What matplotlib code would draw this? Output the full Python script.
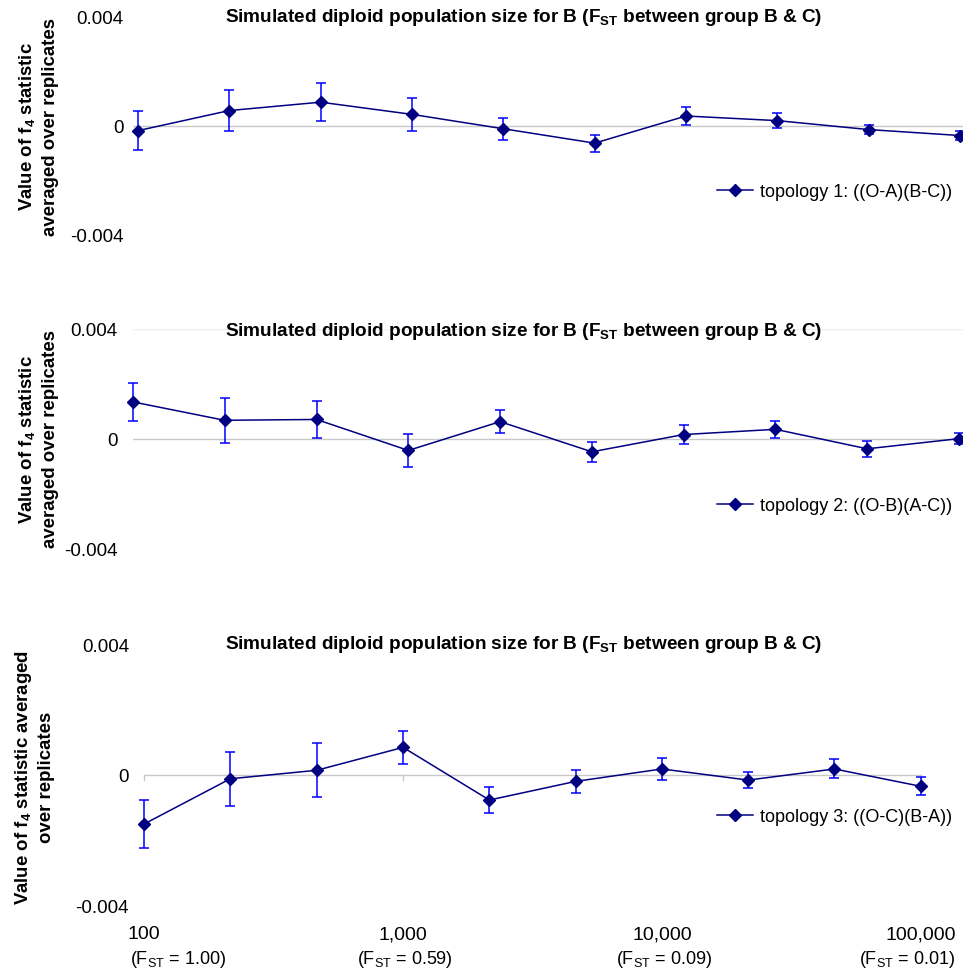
import matplotlib
matplotlib.use('Agg')
import matplotlib.pyplot as plt

plt.rcParams['font.family'] = ['Liberation Sans', 'DejaVu Sans']
plt.rcParams['mathtext.fontset'] = 'custom'
plt.rcParams['mathtext.rm'] = 'Liberation Sans'
plt.rcParams['mathtext.bf'] = 'Liberation Sans:bold'

#simulated population sizes (x values, same for all three panels)
pop_size = [100, 215, 464, 1000, 2154, 4642, 10000, 21544, 46416, 100000]

#topology 1
f4_top1 = [-0.00019, 0.00055, 0.00086, 0.00041, -0.00012, -0.00065, 0.00035, 0.00018, -0.00015, -0.00037]
err_top1 = [0.00072, 0.00077, 0.00069, 0.00060, 0.00040, 0.00031, 0.00034, 0.00027, 0.00018, 0.00017]

#topology 2
f4_top2 = [0.00134, 0.00067, 0.00070, -0.00043, 0.00062, -0.00048, 0.00015, 0.00034, -0.00037, 0.0]
err_top2 = [0.00070, 0.00083, 0.00068, 0.00060, 0.00042, 0.00036, 0.00035, 0.00030, 0.00030, 0.00020]

#topology 3
f4_top3 = [-0.00150, -0.00012, 0.00014, 0.00084, -0.00077, -0.00020, 0.00018, -0.00016, 0.00018, -0.00035]
err_top3 = [0.00074, 0.00083, 0.00083, 0.00050, 0.00039, 0.00035, 0.00035, 0.00025, 0.00029, 0.00028]

labels = ['topology 1: ((O-A)(B-C))', 'topology 2: ((O-B)(A-C))', 'topology 3: ((O-C)(B-A))']
yticks = [-0.004, 0, 0.004]
ytick_labels = ['-0.004', '0', '0.004']
xticks = [100, 1000, 10000, 100000]
xtick_labels = ['100', '1,000', '10,000', '100,000']
fst_labels = ['(F$_{\\mathrm{ST}}$ = 1.00)', '(F$_{\\mathrm{ST}}$ = 0.59)',
              '(F$_{\\mathrm{ST}}$ = 0.09)', '(F$_{\\mathrm{ST}}$ = 0.01)']

title = 'Simulated diploid population size for B (F$_{\\mathbf{ST}}$ between group B & C)'
ylab_a = 'Value of f$_{\\mathbf{4}}$ statistic\naveraged over replicates'
ylab_b = 'Value of f$_{\\mathbf{4}}$ statistic averaged\nover replicates'

W, H = 963, 970
fig = plt.figure(figsize=(W / 100, H / 100), dpi=100)

def px_axes(x0, x1, y0, y1):
    #axes from pixel box (top-left origin)
    return fig.add_axes([x0 / W, 1 - y1 / H, (x1 - x0) / W, (y1 - y0) / H])

ax1 = px_axes(133, 963, 18, 235)
ax2 = px_axes(133, 963, 330, 549.3)
ax3 = px_axes(144.3, 920.7, 645, 906.7)

ax1.set_xlim(10 ** 1.9818, 10 ** 5.011)
ax2.set_xlim(100, 10 ** 5.0145)
ax3.set_xlim(100, 100000)

panels = [(ax1, f4_top1, err_top1, labels[0], 7, 193, 18),
          (ax2, f4_top2, err_top2, labels[1], 11, 506.7, 331.7),
          (ax3, f4_top3, err_top3, labels[2], 11, 817.7, 645)]

for ax, vals, errs, lab, tpad, leg_y, title_y in panels:
    ax.set_xscale('log')
    ax.set_ylim(-0.004, 0.004)
    for s in ax.spines.values():
        s.set_visible(False)
    ax.set_yticks(yticks)
    ax.set_yticklabels(ytick_labels)
    ax.tick_params(axis='y', length=0, pad=tpad, labelsize=13.5)
    ax.tick_params(axis='x', which='both', bottom=False, labelbottom=False)
    ax.axhline(0, color='#c8c8c8', lw=1, zorder=1)

    ax.errorbar(pop_size, vals, yerr=errs, fmt='none', ecolor='#0000ff',
                elinewidth=1.1, capsize=3.6, capthick=1.1, zorder=2, clip_on=False)
    ax.plot(pop_size, vals, color='#000080', lw=1.1, marker='D', markersize=6.5,
            label=lab, zorder=3, clip_on=False)
    ax.legend(loc='center right', bbox_to_anchor=(952 / W, 1 - leg_y / H),
              bbox_transform=fig.transFigure, frameon=False, fontsize=13,
              handlelength=2.0, handletextpad=0.4, borderpad=0, borderaxespad=0)
    fig.text(524 / W, 1 - title_y / H, title, ha='center', va='center',
             fontsize=13.7, fontweight='bold')

ax2.axhline(0.004, color='#eeeeee', lw=1, zorder=0)

#y labels
for y_c in [126.5, 439.5]:
    fig.text(38 / W, 1 - y_c / H, ylab_a, rotation=90, ha='center', va='center',
             fontsize=13.4, fontweight='bold', multialignment='center', linespacing=1.3)
fig.text(34 / W, 1 - 777 / H, ylab_b, rotation=90, ha='center', va='center',
         fontsize=13.4, fontweight='bold', multialignment='center', linespacing=1.3)

#x axis of bottom panel sits on the zero line
for xv in xticks:
    ax3.plot([xv, xv], [0, -0.00015], color='#c8c8c8', lw=1, zorder=1, clip_on=False)

xt = ax3.get_xaxis_transform()
for i, xv in enumerate(xticks):
    ax3.text(xv, 1 - (935 - 645) / (906.7 - 645), xtick_labels[i], transform=xt,
             ha='center', va='center', fontsize=14)
    if i == 0:
        ha, dx = 'left', -14
    elif i == len(xticks) - 1:
        ha, dx = 'right', 35
    else:
        ha, dx = 'center', 2
    ax3.annotate(fst_labels[i], (xv, 1 - (960 - 645) / (906.7 - 645)), xycoords=xt,
                 xytext=(dx * 0.72, 0), textcoords='offset points',
                 ha=ha, va='center', fontsize=13)

fig.savefig('out.png', dpi=100)
